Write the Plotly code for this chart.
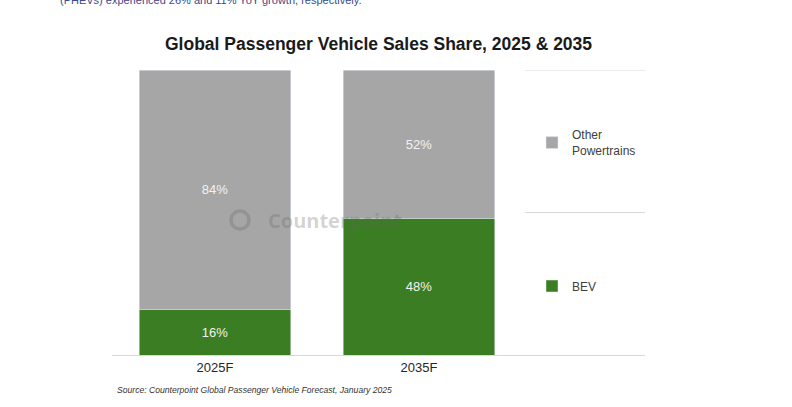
import plotly.graph_objects as go

# data
years = ["2025F", "2035F"]
bev = [16, 48]
other = [84, 52]

GREEN = "#3b7d23"
GRAY = "#a6a6a6"
FONT = "Liberation Sans, Arial, sans-serif"

fig = go.Figure()
fig.add_trace(go.Bar(
    x=years, y=bev, name="BEV", marker_color=GREEN, width=0.745,
    text=[f"{v}%" for v in bev], textposition="inside", insidetextanchor="middle",
    textfont=dict(color="#f2f2f2", size=13, family=FONT),
    legend="legend2",
))
fig.add_trace(go.Bar(
    x=years, y=other, name="Other<br>Powertrains", marker_color=GRAY, width=0.745,
    text=[f"{v}%" for v in other], textposition="inside", insidetextanchor="middle",
    textfont=dict(color="#f2f2f2", size=13, family=FONT),
    legend="legend",
))

# legend separator lines (right side)
for yv in [100, 50]:
    fig.add_shape(type="line", xref="paper", yref="y", x0=0.775, x1=1.0, y0=yv, y1=yv,
                  line=dict(color="#d9d9d9", width=1))

# watermark
fig.add_shape(type="circle", xref="paper", yref="paper",
              x0=(231 - 112) / 533, x1=(249 - 112) / 533,
              y0=(355 - 229) / 285, y1=(355 - 211) / 285,
              line=dict(color="rgba(100,100,100,0.28)", width=3.5))
fig.add_annotation(text="<b>Counterpoint</b>", xref="paper", yref="paper",
                   x=(266 - 112) / 533, y=(355 - 220) / 285, xanchor="left", yanchor="middle",
                   showarrow=False, font=dict(size=20, color="rgba(100,100,100,0.28)", family="Open Sans, sans-serif"))

# title
fig.add_annotation(text="<b>Global Passenger Vehicle Sales Share, 2025 & 2035</b>",
                   xref="paper", yref="paper", x=(378 - 112) / 533, y=(355 - 44) / 285,
                   xanchor="center", yanchor="middle", showarrow=False,
                   font=dict(size=17.5, color="#1a1a1a", family=FONT))

# source
fig.add_annotation(text="<i>Source: Counterpoint Global Passenger Vehicle Forecast, January 2025</i>",
                   xref="paper", yref="paper", x=(115 - 112) / 533, y=(355 - 390) / 285,
                   xanchor="left", yanchor="middle", showarrow=False,
                   font=dict(size=8.6, color="#333333", family=FONT))

# cut-off text from page above
fig.add_annotation(text="(PHEVs) experienced 26% and 11% YoY growth, respectively.",
                   xref="paper", yref="paper", x=(58 - 112) / 533, y=(355 + 0) / 285,
                   xanchor="left", yanchor="middle", showarrow=False,
                   font=dict(size=11, color="#3a4a8c", family=FONT))

fig.update_layout(
    width=792, height=407,
    barmode="stack",
    showlegend=True,
    plot_bgcolor="white", paper_bgcolor="white",
    margin=dict(l=112, r=147, t=70, b=52),
    font=dict(family=FONT, color="#404040", size=12),
    legend=dict(x=0.788, y=(355 - 143) / 285, xanchor="left", yanchor="middle",
                font=dict(size=12, color="#404040"), bgcolor="rgba(0,0,0,0)"),
    legend2=dict(x=0.788, y=(355 - 286) / 285, xanchor="left", yanchor="middle",
                 font=dict(size=12, color="#404040"), bgcolor="rgba(0,0,0,0)"),
    xaxis=dict(range=[-0.505, 2.108], showline=True, linecolor="#d9d9d9", linewidth=1,
               tickfont=dict(size=13, color="#262626"), ticks=""),
    yaxis=dict(range=[0, 100], visible=False, fixedrange=True),
)

fig.write_html("out.html", config={"displayModeBar": False},
               post_script="document.body.style.margin='0';")
